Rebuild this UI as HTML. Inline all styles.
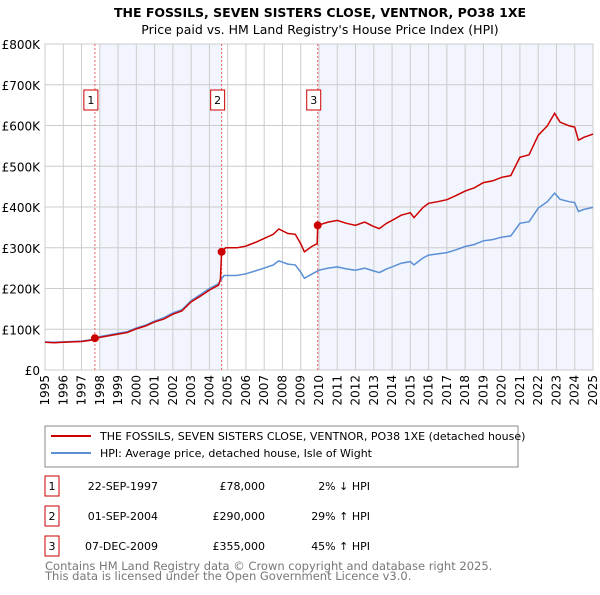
<!DOCTYPE html>
<html><head><meta charset="utf-8"><style>
body{margin:0;background:#fff;font-family:"Liberation Sans","DejaVu Sans",sans-serif}
svg text{font-family:"DejaVu Sans","Liberation Sans",sans-serif}
</style></head><body>
<svg id="c" width="600" height="590" xmlns="http://www.w3.org/2000/svg">
<text x="320" y="17" text-anchor="middle" font-size="12.5" font-weight="bold">THE FOSSILS, SEVEN SISTERS CLOSE, VENTNOR, PO38 1XE</text>
<text x="320" y="34" text-anchor="middle" font-size="12.5">Price paid vs. HM Land Registry's House Price Index (HPI)</text>
<g id="plot"></g>
<rect x="45" y="426" width="473" height="41" fill="#fff" stroke="#888"/>
<line x1="51" y1="436" x2="91" y2="436" stroke="#cc0000" stroke-width="2"/>
<text x="100" y="440" font-size="11">THE FOSSILS, SEVEN SISTERS CLOSE, VENTNOR, PO38 1XE (detached house)</text>
<line x1="51" y1="453" x2="91" y2="453" stroke="#5b8fd6" stroke-width="2"/>
<text x="100" y="457" font-size="11">HPI: Average price, detached house, Isle of Wight</text>
<g font-size="11">
<rect x="45" y="476" width="14" height="20" fill="#fff" stroke="#cc0000"/><text x="52" y="490" text-anchor="middle">1</text>
<text x="158" y="490" text-anchor="end">22-SEP-1997</text><text x="265" y="490" text-anchor="end">£78,000</text><text x="370" y="490" text-anchor="end">2% ↓ HPI</text>
<rect x="45" y="506" width="14" height="20" fill="#fff" stroke="#cc0000"/><text x="52" y="520" text-anchor="middle">2</text>
<text x="158" y="520" text-anchor="end">01-SEP-2004</text><text x="265" y="520" text-anchor="end">£290,000</text><text x="370" y="520" text-anchor="end">29% ↑ HPI</text>
<rect x="45" y="536" width="14" height="20" fill="#fff" stroke="#cc0000"/><text x="52" y="550" text-anchor="middle">3</text>
<text x="158" y="550" text-anchor="end">07-DEC-2009</text><text x="265" y="550" text-anchor="end">£355,000</text><text x="370" y="550" text-anchor="end">45% ↑ HPI</text>
</g>
<text x="45" y="570" font-size="11.5" fill="#777">Contains HM Land Registry data © Crown copyright and database right 2025.</text>
<text x="45" y="580" font-size="11.5" fill="#777">This data is licensed under the Open Government Licence v3.0.</text>
</svg>
<script>
const yTicks=[0,100,200,300,400,500,600,700,800];
const yLabels=["£0","£100K","£200K","£300K","£400K","£500K","£600K","£700K","£800K"];
const years=[1995,1996,1997,1998,1999,2000,2001,2002,2003,2004,2005,2006,2007,2008,2009,2010,2011,2012,2013,2014,2015,2016,2017,2018,2019,2020,2021,2022,2023,2024,2025];
const hpiDates=[1995,1995.5,1996,1996.5,1997,1997.5,1998,1998.5,1999,1999.5,2000,2000.5,2001,2001.5,2002,2002.5,2003,2003.5,2004,2004.5,2004.8,2005.5,2006,2006.5,2007,2007.5,2007.8,2008.3,2008.7,2009,2009.2,2009.6,2010,2010.5,2011,2011.5,2012,2012.5,2013,2013.3,2013.7,2014,2014.5,2015,2015.2,2015.7,2016,2016.5,2017,2017.5,2018,2018.5,2019,2019.5,2020,2020.5,2021,2021.5,2022,2022.5,2022.9,2023.2,2023.7,2024,2024.2,2024.5,2025];
const hpiValues=[69,68,69,70,71,74,82,86,90,94,103,110,120,128,140,148,170,185,200,212,232,232,236,243,250,258,268,260,258,240,225,235,245,250,253,248,245,250,243,239,248,253,262,266,258,275,282,285,288,295,303,308,317,320,326,329,360,364,397,413,434,419,413,411,389,394,399];
const priceDates=[1995,1995.5,1996,1996.5,1997,1997.5,1997.73,1998,1998.5,1999,1999.5,2000,2000.5,2001,2001.5,2002,2002.5,2003,2003.5,2004,2004.5,2004.6,2004.67,2004.9,2005.5,2006,2006.5,2007,2007.5,2007.8,2008.3,2008.7,2009,2009.2,2009.6,2009.9,2009.93,2010.5,2011,2011.5,2012,2012.5,2013,2013.3,2013.7,2014,2014.5,2015,2015.2,2015.7,2016,2016.5,2017,2017.5,2018,2018.5,2019,2019.5,2020,2020.5,2021,2021.5,2022,2022.5,2022.9,2023.2,2023.7,2024,2024.2,2024.5,2025];
const priceValues=[68,67,68,69,70,73,78,80,84,88,92,101,108,118,125,137,145,167,181,196,208,222,290,300,300,304,313,323,333,346,335,333,310,290,303,310,355,363,367,360,355,363,352,347,360,367,380,386,374,399,409,413,418,428,439,447,460,464,473,477,522,528,576,599,630,608,599,596,564,571,579];
const saleDates=[1997.73,2004.67,2009.93];
const saleValues=[78,290,355];
const saleLabels=["1","2","3"];

const X0=45,X1=593,Y0=370,Y1=44;
const xs=y=>X0+(y-1995)/30*(X1-X0);
const ys=v=>Y0-v/800*(Y0-Y1);
const NS="http://www.w3.org/2000/svg";
const g=document.getElementById('plot');
function mk(t,a){const e=document.createElementNS(NS,t);for(const k in a)e.setAttribute(k,a[k]);g.appendChild(e);return e;}
let r=mk('rect',{x:xs(saleDates[0])+5,y:Y1,width:xs(saleDates[1])-xs(saleDates[0])-5,height:Y0-Y1,fill:'#f2f5fd'});


r=mk('rect',{x:xs(saleDates[2]),y:Y1,width:X1-xs(saleDates[2]),height:Y0-Y1,fill:'#f2f5fd'});


yTicks.forEach((v,i)=>{
 const l=mk('line',{x1:X0,x2:X1,y1:ys(v),y2:ys(v),stroke:'#ccc'});
 
 
 const t=mk('text',{x:40,y:ys(v)+5,'text-anchor':'end','font-size':'12'});t.textContent=yLabels[i];
 
 
});
years.forEach(y=>{
 const l=mk('line',{x1:xs(y),x2:xs(y),y1:Y1,y2:Y0,stroke:'#ccc'});
 
 
 const t=mk('text',{x:0,y:0,'text-anchor':'end','font-size':'12',transform:`translate(${xs(y)+4},375) rotate(-90)`});t.textContent=y;
 
 
});
const fr=mk('rect',{x:X0,y:Y1,width:X1-X0,height:Y0-Y1,fill:'none',stroke:'#ccc'});


saleDates.forEach((d,i)=>{
 const l=mk('line',{x1:xs(d),x2:xs(d),y1:Y1,y2:Y0,stroke:'#f06060','stroke-dasharray':'2,2'});
 
 
 const b=mk('rect',{x:xs(d)-11,y:90,width:14,height:20,fill:'#fff',stroke:'#cc0000'});
 
 
 const t=mk('text',{x:xs(d)-4,y:104,'text-anchor':'middle','font-size':'11'});t.textContent=saleLabels[i];
 
 
});
const path=(D,V)=>D.map((d,i)=>(i?'L':'M')+xs(d).toFixed(1)+','+ys(V[i]).toFixed(1)).join('');
const hp=mk('path',{d:path(hpiDates,hpiValues),fill:'none',stroke:'#5b8fd6','stroke-width':1.5});


const pp=mk('path',{d:path(priceDates,priceValues),fill:'none',stroke:'#cc0000','stroke-width':1.5});


saleDates.forEach((d,i)=>{
 const c=mk('circle',{cx:xs(d),cy:ys(saleValues[i]),r:4,fill:'#cc0000'});
 
 
});
</script>
</body></html>
